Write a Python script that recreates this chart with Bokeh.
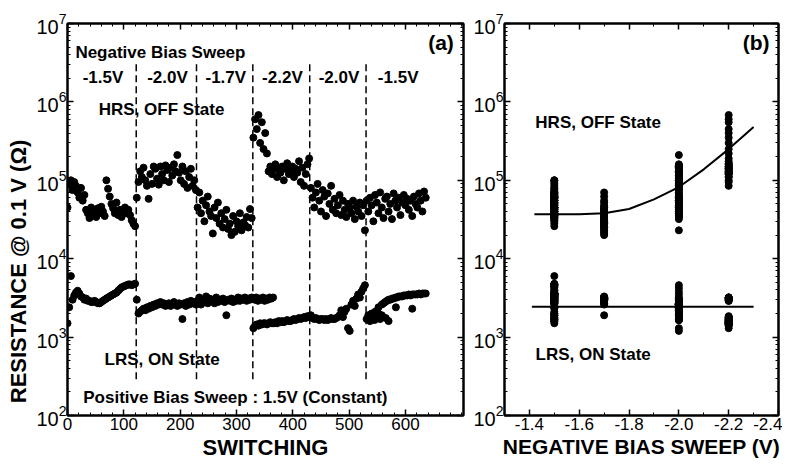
import numpy as np
from bokeh.plotting import figure
from bokeh.models import Range1d, LinearAxis, LogAxis, Label, FixedTicker, CustomJSTickFormatter
from bokeh.layouts import row
from bokeh.embed import file_html
from bokeh.resources import INLINE

# ---------------- data ----------------
# switching index (sampled every 3 cycles)
sw_x = list(range(0, 637, 3))

# HRS (OFF state) resistance, kOhm
hrs_k = [
    # seg 1  (-1.5 V)
    45, 90, 100, 75, 95, 85, 70, 60, 80, 55, 65,
    42, 38, 33, 45, 36, 40, 34, 44, 38, 46, 40, 35,
    100, 78, 62, 50, 44, 38, 52, 36, 42, 34, 40, 45, 38, 42, 36, 31, 28, 26,
    # seg 2  (-2.0 V)
    60, 95, 130, 110, 145, 100, 85, 58, 120, 90,
    150, 140, 105, 88, 150, 120, 100, 155, 135, 95,
    145, 115, 160, 130, 210, 125, 100, 150, 90, 130,
    80, 110, 140, 85, 100, 75,
    # seg 3  (-1.7 V)
    45, 70, 38, 55, 30, 48, 62, 40, 35, 21,
    45, 33, 52, 28, 38, 25, 32, 42, 24, 28,
    20, 35, 22, 30, 26, 38, 23, 29, 27, 34,
    25, 43, 33,
    # seg 4  (-2.2 V)
    350, 600, 450, 680, 300, 550, 250, 400, 220, 130,
    150, 120, 140, 160, 110, 135, 125, 150, 100, 140,
    165, 120, 130, 150, 110, 140, 125, 175, 95, 145,
    85, 120, 160, 190,
    # seg 5  (-2.0 V)
    80, 60, 45, 70, 90, 55, 40, 75, 62, 35,
    68, 50, 85, 42, 58, 38, 48, 65, 36, 55,
    42, 34, 50, 45, 38, 55, 32, 46, 40, 52,
    35, 48, 23,
    # seg 6  (-1.5 V)
    55, 40, 60, 48, 30, 65, 52, 38, 70, 45,
    33, 58, 62, 40, 50, 32, 68, 55, 45, 60,
    36, 52, 65, 48, 58, 42, 55, 35, 62, 50,
    45, 68, 55, 40, 72, 60,
]

# LRS (ON state) resistance, kOhm
lrs_k = [
    # seg 1
    1.5, 2.4, 6.0, 3.0, 3.4, 3.7, 3.9, 3.6, 3.3, 3.2,
    3.0, 3.1, 2.9, 2.9, 2.8, 2.8, 2.9, 2.8, 2.7, 2.7,
    2.8, 2.9, 3.0, 3.1, 3.2, 3.3, 3.4, 3.5, 3.6, 3.7,
    3.9, 4.1, 4.3, 4.4, 4.5, 4.6, 4.7, 4.7, 4.6, 4.7,
    4.8,
    # seg 2
    3.0, 2.0, 2.1, 2.2, 2.3, 2.2, 2.4, 2.3, 2.5, 2.4,
    2.6, 2.5, 2.7, 2.6, 2.8, 2.6, 2.7, 2.5, 2.6, 2.7,
    2.5, 2.6, 2.8, 2.6, 2.5, 2.7, 2.6, 1.7, 2.7, 2.5,
    2.8, 2.6, 2.9, 2.7, 2.8, 2.6,
    # seg 3
    2.9, 3.2, 2.6, 3.0, 2.8, 3.3, 2.7, 3.1, 2.9, 3.0,
    2.7, 3.2, 2.8, 3.0, 2.9, 3.1, 2.8, 1.9, 3.0, 2.9,
    3.1, 2.8, 3.0, 2.9, 3.2, 2.9, 3.1, 3.0, 3.2, 2.9,
    3.1, 3.0, 3.2,
    # seg 4
    1.3, 1.4, 1.45, 1.4, 1.5, 1.45, 1.5, 1.5, 1.45, 1.5,
    1.55, 1.5, 1.5, 1.55, 1.5, 1.6, 1.55, 1.6, 1.55, 1.6,
    1.65, 1.6, 1.6, 1.65, 1.7, 1.65, 1.7, 1.75, 1.7, 1.75,
    1.8, 1.75, 1.85, 1.8,
    # seg 5
    1.9, 1.75, 1.7, 1.75, 1.7, 1.65, 1.7, 1.7, 1.65, 1.7,
    1.65, 1.7, 1.75, 1.7, 1.7, 1.75, 1.8, 1.9, 2.2, 1.8,
    2.1, 2.3, 1.3, 1.2, 2.6, 2.9, 2.5, 3.1, 3.5, 3.2,
    3.8, 4.2, 4.6,
    # seg 6
    1.7, 1.9, 1.6, 2.0, 1.7, 2.1, 1.8, 2.4, 1.7, 2.6,
    2.7, 2.8, 2.9, 3.0, 3.0, 3.1, 3.1, 3.2, 3.2, 3.3,
    3.3, 3.3, 3.4, 3.4, 3.4, 3.5, 3.4, 3.5, 3.5, 3.5,
    3.5, 3.6, 3.5, 3.6, 3.6, 3.6,
]

# additional LRS points (overlapping bands / outliers)
lrs_extra_x = [332, 335, 338, 341, 344, 347, 350, 353, 356, 359, 362, 365,
               538, 545, 552, 558, 565, 570, 583, 612]
lrs_extra_k = [3.0, 3.2, 2.9, 3.1, 3.0, 3.2, 2.9, 3.1, 3.0, 3.2, 3.1, 3.2,
               1.9, 1.65, 2.0, 1.9, 1.75, 1.6, 2.4, 2.3]

# negative bias sweep segments
seg_bounds = [0, 122, 229, 329, 430, 530, 640]
seg_volts = [-1.5, -2.0, -1.7, -2.2, -2.0, -1.5]
seg_labels = ["-1.5V", "-2.0V", "-1.7V", "-2.2V", "-2.0V", "-1.5V"]

# panel (b) fitted curves
hrs_fit_v = [-1.42, -1.5, -1.6, -1.7, -1.8, -1.9, -2.0, -2.1, -2.2, -2.3]
hrs_fit_k = [37, 37, 37, 38, 43, 57, 82, 138, 250, 480]
lrs_fit_v = [-1.41, -2.30]
lrs_fit_k = [2.43, 2.43]

# ---------------- helpers ----------------
FONT = "Liberation Sans"
NB = "\u00a0"


def volt_of(x):
    for lo, hi, v in zip(seg_bounds[:-1], seg_bounds[1:], seg_volts):
        if lo <= x < hi:
            return v
    return seg_volts[-1]


hrs_ohm = [v * 1e3 for v in hrs_k]
lrs_ohm = [v * 1e3 for v in lrs_k]
lrs_extra_ohm = [v * 1e3 for v in lrs_extra_k]

y_major = [10.0 ** e for e in range(2, 8)]
y_minor = [m * 10.0 ** e for e in range(2, 7) for m in range(1, 10)] + [1e7]


def tick_style(ax):
    ax.axis_line_width = 2
    ax.major_tick_in = 6
    ax.major_tick_out = 0
    ax.minor_tick_in = 3
    ax.minor_tick_out = 0
    ax.major_tick_line_width = 1.5


def style_axes(p, xticks, xminor, xlabel_size):
    p.xaxis.ticker = FixedTicker(ticks=xticks, minor_ticks=xminor)
    p.yaxis.ticker = FixedTicker(ticks=y_major, minor_ticks=y_minor)
    for ax in p.xaxis + p.yaxis:
        tick_style(ax)
        ax.major_label_text_font = FONT
        ax.major_label_text_font_size = "17px"
        ax.major_label_text_color = "black"
        ax.axis_label_text_font = FONT
        ax.axis_label_text_font_style = "bold"
        ax.axis_label_text_font_size = "22px"
        ax.axis_label_text_color = "black"
        ax.major_label_standoff = 2
        ax.axis_label_standoff = 2
    for ax in p.xaxis:
        ax.axis_label_text_font_size = xlabel_size
    for ax in p.yaxis:
        ax.major_label_text_font_size = "20px"
        ax.major_label_standoff = 1
    top = LinearAxis(ticker=FixedTicker(ticks=xticks, minor_ticks=xminor))
    right = LogAxis(ticker=FixedTicker(ticks=y_major, minor_ticks=y_minor))
    for ax in (top, right):
        tick_style(ax)
        ax.major_label_text_font_size = "1px"
        ax.major_label_text_alpha = 0
        ax.major_label_standoff = 0
    p.add_layout(top, "above")
    p.add_layout(right, "right")
    p.grid.visible = False
    p.outline_line_color = "black"
    p.outline_line_width = 2


def add_text(p, x, y, text, size="17px", align="left", baseline="middle"):
    p.add_layout(Label(x=x, y=y, text=text, text_font=FONT, text_font_style="bold",
                       text_font_size=size, text_align=align, text_baseline=baseline,
                       text_color="black"))


# ---------------- panel (a) ----------------
pa = figure(width=470, height=462, output_backend="svg", toolbar_location=None,
            x_range=Range1d(0, 703), y_range=Range1d(1e2, 1e7), y_axis_type="log",
            min_border_left=67, min_border_right=7, min_border_top=23, min_border_bottom=42)
pa.xaxis.axis_label = "SWITCHING"
pa.yaxis.axis_label = "RESISTANCE @ 0.1 V (Ω)" + NB * 17
style_axes(pa, list(range(0, 601, 100)), list(range(0, 701, 20)), "22px")

# segment separators
pa.segment(x0=seg_bounds[1:-1], y0=[2.9e2] * 5, x1=seg_bounds[1:-1], y1=[3.2e6] * 5,
           line_color="black", line_width=1.5, line_dash="7 4")

pa.scatter(sw_x, hrs_ohm, size=7, color="black")
pa.scatter(sw_x, lrs_ohm, size=7, color="black")
pa.scatter(lrs_extra_x, lrs_extra_ohm, size=7, color="black")

add_text(pa, 14, 4.3e6, "Negative Bias Sweep")
for lo, hi, lab in zip(seg_bounds[:-1], seg_bounds[1:], seg_labels):
    add_text(pa, (lo + hi) / 2 + 2, 2.05e6, lab, align="center")
add_text(pa, 167, 7.9e5, "HRS, OFF State", align="center")
add_text(pa, 663, 5.7e6, "(a)", size="21px", align="center")
add_text(pa, 168, 525, "LRS, ON State", align="center")
add_text(pa, 298, 170, "Positive Bias Sweep : 1.5V (Constant)", align="center")

# ---------------- panel (b) ----------------
b_hrs_v = [volt_of(x) for x in sw_x]
b_lrs_v = [volt_of(x) for x in sw_x] + [volt_of(x) for x in lrs_extra_x]
b_lrs_ohm = lrs_ohm + lrs_extra_ohm

pb = figure(width=312, height=462, output_backend="svg", toolbar_location=None,
            x_range=Range1d(-1.3, -2.4), y_range=Range1d(1e2, 1e7), y_axis_type="log",
            min_border_left=30, min_border_right=4, min_border_top=23, min_border_bottom=42)
pb.xaxis.axis_label = "NEGATIVE BIAS SWEEP (V)"
pb.xaxis.formatter = CustomJSTickFormatter(code="return '-' + Math.abs(tick).toFixed(1);")
bt = [-1.4, -1.6, -1.8, -2.0, -2.2, -2.4]
bm = [-1.3 - 0.1 * i for i in range(12)]
style_axes(pb, bt, bm, "21px")

pb.scatter(b_hrs_v, hrs_ohm, size=7, color="black")
pb.scatter(b_lrs_v, b_lrs_ohm, size=7, color="black")
pb.line(hrs_fit_v, [v * 1e3 for v in hrs_fit_k], line_color="black", line_width=2)
pb.line(lrs_fit_v, [v * 1e3 for v in lrs_fit_k], line_color="black", line_width=2)

add_text(pb, -1.676, 5.5e5, "HRS, OFF State", align="center")
add_text(pb, -1.656, 600, "LRS, ON State", align="center")
add_text(pb, -2.31, 5.7e6, "(b)", size="21px", align="center")

layout = row(pa, pb)
open("out.html", "w").write(file_html(layout, INLINE))
